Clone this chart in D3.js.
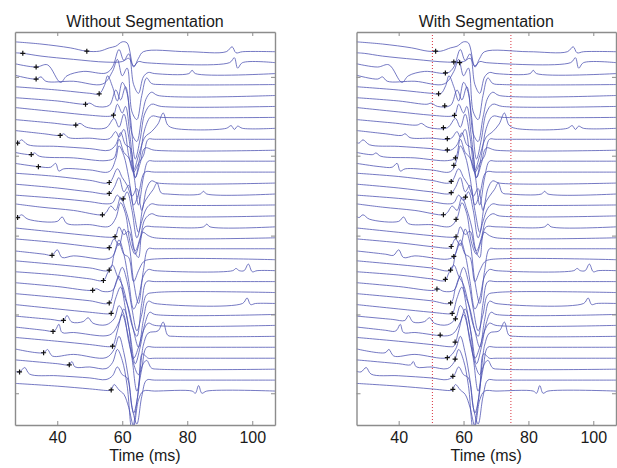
<!DOCTYPE html>
<html>
<head>
<meta charset="utf-8">
<script src="https://cdn.jsdelivr.net/npm/d3@7"></script>
<style>
    body { margin: 0; background: #fff; }
    svg { display: block; font-family: "Liberation Sans", Arial, sans-serif; }
</style>
</head>
<body>
<div id="chart"></div>
<script>
// x axis ticks (ms) and unlabeled y ticks (in trace-spacing units)
const timeTicks = [40, 60, 80, 100];
const yTicks = [2.3, 9.5, 16.8, 24.0, 31.2];

// segmentation window (ms), red dotted lines
const segWindow = [50.4, 74.6];

// "+" onset marks per trace (ms)
const onsetWithout = [49.1, 29.4, 33.5, 33.5, 52.9, 48.7, 57.3, 45.7, 40.9, 27.8, 32, 34.2, 56, 56, 60.3, 53.9,
    27.8, 57.8, 56, 38.4, 56, 54.2, 50.9, 56, 56.6, 41.9, 38.7, 57, 35.8, 43.7, 28.4, 56.6];
const onsetWith = [51.4, 57, 54.4, 58.8, 52.3, 54.2, 57.2, 53.8, 55, 55, 57.5, 57, 56.2, 56.2, 60.6, 53.8,
    57.7, 57.7, 56.2, 57, 56, 54.4, 51.8, 56, 56.5, 57.5, 52.8, 57.4, 55, 57.4, 56.7, 56.7];

// traces, top to bottom: [time ms, amplitude in trace-spacing units]
const traces = [
    [[27,0.9],[35,0.7],[44,0.35],[49,0.05],[53,0.05],[56,0.35],[58,0.5],[60,0.9],[61.5,0.8],[63.5,-1.4],[65,-0.6],[66.5,0],[80,0],[92,0],[93.8,0.45],[95,-0.1],[97,0],[107,0]],
    [[27,0.9],[29.4,0.85],[35,0.6],[45,0.3],[55,0.05],[60,0.1],[62,0.4],[63.5,-0.3],[65,0.1],[67,0],[93,0],[94.5,0.45],[95.5,-0.5],[97,0],[107,0]],
    [[27,0.9],[33.5,0.6],[37,0.8],[41,-0.8],[43,-0.2],[48,0.2],[55,0.05],[57,0.6],[59,2.2],[60.5,1.2],[62,1.8],[63.5,-1],[65,-1.8],[66.5,-0.3],[68,0.1],[70,0],[80.5,0],[81.5,0.3],[82.5,0],[107,0]],
    [[27,0.85],[33.5,0.5],[35,0.7],[36.5,0.3],[45,0.3],[54,0.05],[57,1.2],[58.5,2.3],[60,0.8],[61.5,1.5],[63,-2.5],[64.5,-3.2],[66,-1],[67.5,0.6],[69,0.1],[72,0],[107,0]],
    [[27,0.8],[40,0.5],[50,0.2],[52.9,0.15],[54.5,0.9],[55.5,1.8],[57,0.8],[58.5,-0.5],[60,1.2],[61.5,0.2],[63,-3.5],[64.5,-4.2],[66,-2],[67.5,-0.2],[69,0.3],[71,0],[107,0]],
    [[27,0.8],[40,0.5],[48.7,0.2],[50,0.3],[52,0],[56,0.1],[58,1.5],[59.5,0.6],[61,1.8],[62.5,-1],[64,-4.8],[65.5,-3],[67,-0.6],[69,0.2],[72,0],[107,0]],
    [[27,0.9],[40,0.5],[50,0.2],[56,0.1],[57.3,0.2],[58.5,1.2],[60,0.4],[61,1],[62.5,-2],[64,-5.5],[65.5,-3.5],[67,-1],[69,0.1],[72,0],[107,0]],
    [[27,0.8],[38,0.5],[45.7,0.3],[47,0.45],[49,0.1],[55,0.05],[57.5,0.9],[59,0.1],[60.5,1.3],[62,-0.8],[63.5,-3.8],[65,-2.5],[67,-0.8],[69,-0.3],[71,0.4],[72.6,1.4],[74,0.3],[76,0],[92,0],[93.5,0.25],[94.5,-0.1],[95.5,0.2],[97,0],[107,0]],
    [[27,0.8],[36,0.5],[40.9,0.35],[42,0.5],[43.5,0.15],[50,0.1],[56,0.05],[58,0.7],[59,0.2],[60.5,0.9],[62,-1.5],[63.5,-3],[65,-2.2],[66.5,-1.5],[68,0],[70,0],[107,0]],
    [[27,0.7],[27.8,0.65],[29,0.95],[31,0.5],[40,0.35],[50,0.15],[56,0],[58,0.5],[59.5,1.6],[61,0.5],[62.5,0.2],[64,-2.5],[65.5,-1.2],[67,0.2],[70,0],[107,0]],
    [[27,0.8],[32,0.6],[33,0.75],[34.5,0.45],[45,0.3],[55,0.05],[57.5,0.3],[59,2],[60.5,0.8],[62,0.3],[63.5,-1.2],[65,-4],[66.5,-1.5],[68,0],[70,0],[107,0]],
    [[27,0.8],[34.2,0.5],[38,0.45],[39.5,0.8],[40.5,0.1],[42,0.3],[50,0.2],[56,0.05],[58,1.2],[59,2.4],[60.5,1.5],[62,-0.5],[63.5,-3],[65,-2],[67,0],[70,0],[107,0]],
    [[27,0.9],[40,0.6],[50,0.25],[56,0.05],[58.5,1.3],[60,0.5],[61.5,-0.2],[63,-1.2],[64.5,-0.5],[66,-2.5],[67.5,-0.5],[69,0.2],[71,0],[107,0]],
    [[27,0.9],[40,0.55],[50,0.2],[56,0.05],[57.5,0.6],[59,1.5],[60.5,0.2],[62,0.8],[63.5,-1.5],[65,-3.5],[66.5,-1],[68,-0.2],[69.5,0.4],[70.7,1],[72,0.1],[74,0],[84,0],[85,0.25],[86,0],[107,0]],
    [[27,0.9],[40,0.6],[50,0.3],[55,0.1],[57,0.2],[58.5,0.9],[60,0.4],[61.5,1.2],[63,-0.5],[64.5,-3],[66,-1.5],[67.5,-0.3],[69,0.1],[71,0],[107,0]],
    [[27,1.1],[35,0.8],[45,0.5],[53.9,0.1],[55,0.3],[56.5,0.9],[58,0.5],[59.5,1.7],[61,0.6],[62.5,-1],[64,-3.2],[65.5,-2],[67,-0.3],[69,0.2],[71,0],[107,0]],
    [[27,0.95],[27.8,0.85],[29,1.1],[31,0.7],[40,0.5],[41.5,0.9],[43,0.3],[50,0.2],[56,0.05],[58,0.8],[59.5,2.2],[61,1.2],[62.5,-1.5],[64,-2.5],[65.5,-1.2],[67,0],[70,0],[85,0],[86,0.25],[87,0],[107,0]],
    [[27,0.9],[40,0.5],[50,0.2],[56,0.05],[57.8,0.1],[59,1],[60.5,0.3],[62,0.6],[63.5,-1],[65,-1.8],[66.3,0.5],[68,0.2],[70,0],[107,0]],
    [[27,0.9],[40,0.55],[50,0.2],[55,0.05],[56,0.1],[57.5,0.9],[59,0.3],[60.5,1.8],[62,0.5],[63.5,-3],[65,-5],[66.5,-2],[68,0],[70,0],[107,0]],
    [[27,0.8],[36,0.5],[38.4,0.4],[40,0.9],[41.5,0.2],[45,0.35],[55,0.05],[57,0.3],[59,1.5],[60.5,0.5],[62,0.2],[63.5,-2],[65,-1],[66.5,-0.2],[68,0],[107,0]],
    [[27,0.9],[40,0.55],[50,0.25],[56,0.05],[57.5,1.5],[59,2.8],[60.5,1.5],[62,-1],[63.5,-3.5],[65,-2.5],[66.5,-0.5],[68,0.1],[70,0],[94,0],[95,0.2],[96,0],[97.5,0],[98.8,0.6],[100,-0.1],[101.5,0],[107,0]],
    [[27,0.9],[40,0.6],[50,0.25],[54.2,0.1],[55.5,0.8],[57,1.5],[58.5,0.5],[60,-0.3],[61.5,-2],[63,-4],[64.5,-5],[66,-2],[67.5,0],[70,0],[107,0]],
    [[27,0.9],[40,0.55],[50.9,0.2],[52,0.35],[54,0.1],[57,0.2],[58.5,1.2],[60,2.3],[61.5,1],[63,-1.5],[64.5,-3.5],[66,-2],[67.5,-0.2],[70,0],[107,0]],
    [[27,0.9],[40,0.55],[50,0.25],[56,0.05],[57.5,1.4],[59,2.5],[60.5,0.8],[62,-0.5],[63.5,-2.5],[65,-4],[66.5,-1.5],[68,0.2],[70,0],[97,0],[98.4,0.5],[99.5,-0.1],[101,0],[107,0]],
    [[27,0.9],[40,0.5],[50,0.2],[56,0.05],[56.6,0.1],[58,1.5],[59.5,2.5],[61,0.5],[62.5,-2],[64,-4.5],[65.5,-3],[67,-0.8],[68.5,0.2],[70,0],[107,0]],
    [[27,0.85],[38,0.55],[41.9,0.45],[43,0.9],[44.5,0.3],[48,0.35],[49.5,0.7],[51,0.2],[55,0.05],[57.5,0.6],[59,1.8],[60.5,1],[62,-1.5],[63.5,-3],[65,-2],[66.5,-0.5],[68,0.2],[70,0],[107,0]],
    [[27,0.85],[36,0.55],[38.7,0.45],[39.5,0.6],[40.5,1.1],[41.5,0.35],[45,0.35],[55,0.05],[57,0.3],[59,1.3],[60.5,2.5],[62,0.8],[63.5,-2.5],[65,-3.5],[66.5,-0.8],[68,0.3],[71,0.5],[72.6,1.3],[74,0.1],[76,0],[107,0]],
    [[27,0.9],[40,0.55],[50,0.25],[56,0.05],[57,0.1],[58.5,1.5],[60,3],[61.5,1.5],[63,-1],[64.5,-4],[66,-2],[67.5,0],[70,0],[107,0]],
    [[27,0.85],[35.8,0.5],[37,0.8],[38.5,0.2],[45,0.35],[55,0.05],[57.5,0.8],[59,2],[60.5,0.5],[62,-2],[63.5,-5],[65,-3],[66.2,0.4],[68,0],[70,0],[107,0]],
    [[27,0.85],[40,0.5],[43.7,0.4],[44.5,0.7],[45.5,0.2],[50,0.2],[55,0.05],[57,0.6],[58.5,1.8],[60,0.8],[61.5,-1.5],[63,-5.6],[64.5,-3],[66,0.2],[67.5,0.8],[69,0.1],[71,0],[107,0]],
    [[27,0.8],[28.4,0.75],[30,1.15],[31.5,0.55],[40,0.4],[50,0.2],[55,0.05],[57,0.4],[58.5,1.2],[60,0.5],[61.5,0.2],[63,-2.5],[64.5,-4],[66,-1.5],[67.5,0],[70,0],[107,0]],
    [[27,0.7],[40,0.45],[50,0.2],[56,0.05],[56.6,0.1],[57.5,0.6],[59,0.1],[60.5,-0.3],[62,-1.5],[63.5,-3.2],[65,-0.8],[66.5,0],[70,0],[81.5,0],[82.5,-0.2],[83.5,0.5],[84.5,-0.2],[86,0],[107,0]]
];

class WavePanel {
    constructor(svg, opts) {
        this.svg = svg;
        this.opts = opts;
        this.initVis();
    }

    initVis() {
        let vis = this;
        let o = vis.opts;

        vis.x = d3.scaleLinear().domain([27, 107]).range([o.left, o.right]);
        vis.y = d3.scaleLinear().domain([-1.8, 34.1]).range([32, 425]);

        vis.g = vis.svg.append("g");

        // clip traces to the axes box
        vis.g.append("clipPath").attr("id", o.id + "-clip")
            .append("rect")
            .attr("x", o.left).attr("y", 32)
            .attr("width", o.right - o.left).attr("height", 393);

        vis.updateVis();
    }

    updateVis() {
        let vis = this;
        let o = vis.opts;

        let line = d3.line()
            .x(d => vis.x(d[0]))
            .y(d => vis.y(d[2] - d[1]))
            .curve(d3.curveCatmullRom.alpha(0.5));

        let plot = vis.g.append("g").attr("clip-path", "url(#" + o.id + "-clip)");

        // segmentation window
        if (o.window) {
            plot.selectAll(".seg")
                .data(o.window)
                .enter().append("line")
                .attr("class", "seg")
                .attr("x1", d => vis.x(d)).attr("x2", d => vis.x(d))
                .attr("y1", 32).attr("y2", 425)
                .attr("stroke", "#d9333f")
                .attr("stroke-width", 1)
                .attr("stroke-dasharray", "1,2");
        }

        plot.selectAll(".trace")
            .data(traces)
            .enter().append("path")
            .attr("class", "trace")
            .attr("fill", "none")
            .attr("stroke", "#4a4fb0")
            .attr("stroke-opacity", 0.85)
            .attr("stroke-width", 0.9)
            .attr("d", (tr, i) => line(tr.map(p => [p[0], p[1], i])));

        // onset marks sit on the trace
        let marks = o.onsets.map((t, i) => {
            let tr = traces[i];
            let amp = d3.scaleLinear().domain(tr.map(p => p[0])).range(tr.map(p => p[1]))(t);
            return {x: vis.x(t), y: vis.y(i - amp)};
        });

        plot.selectAll(".mark")
            .data(marks)
            .enter().append("path")
            .attr("class", "mark")
            .attr("d", d => "M" + (d.x - 2.5) + "," + d.y + "h5M" + d.x + "," + (d.y - 2.5) + "v5")
            .attr("stroke", "#111")
            .attr("stroke-width", 1.2);

        // box with inward ticks on every side
        let axisStyle = g => {
            g.select(".domain").attr("stroke", "#8c8c8c").attr("stroke-width", 1.4);
            g.selectAll(".tick line").attr("stroke", "#8c8c8c");
        };

        vis.g.append("g")
            .attr("transform", "translate(0,425)")
            .call(d3.axisBottom(vis.x).tickValues(timeTicks).tickSizeInner(-4).tickSizeOuter(0).tickPadding(7))
            .call(axisStyle)
            .call(g => g.selectAll(".tick text").attr("font-size", 16).attr("fill", "#1a1a1a")
                .attr("font-family", "Liberation Sans, Arial, sans-serif"));

        vis.g.append("g")
            .attr("transform", "translate(0,32)")
            .call(d3.axisTop(vis.x).tickValues(timeTicks).tickSizeInner(-4).tickSizeOuter(0).tickFormat(""))
            .call(axisStyle);

        vis.g.append("g")
            .attr("transform", "translate(" + o.left + ",0)")
            .call(d3.axisLeft(vis.y).tickValues(yTicks).tickSizeInner(-4).tickSizeOuter(0).tickFormat(""))
            .call(axisStyle);

        vis.g.append("g")
            .attr("transform", "translate(" + o.right + ",0)")
            .call(d3.axisRight(vis.y).tickValues(yTicks).tickSizeInner(-4).tickSizeOuter(0).tickFormat(""))
            .call(axisStyle);

        let cx = (o.left + o.right) / 2;

        vis.g.append("text")
            .attr("x", cx).attr("y", 26.5)
            .attr("text-anchor", "middle")
            .attr("font-size", 16)
            .attr("fill", "#1a1a1a")
            .text(o.title);

        vis.g.append("text")
            .attr("x", cx).attr("y", 461)
            .attr("text-anchor", "middle")
            .attr("font-size", 16)
            .attr("fill", "#1a1a1a")
            .text("Time (ms)");
    }
}

const svg = d3.select("#chart").append("svg")
    .attr("width", 617)
    .attr("height", 468);

new WavePanel(svg, {id: "without", left: 15, right: 275, title: "Without Segmentation", onsets: onsetWithout});
new WavePanel(svg, {id: "with", left: 356.5, right: 616, title: "With Segmentation", onsets: onsetWith, window: segWindow});
</script>
</body>
</html>
